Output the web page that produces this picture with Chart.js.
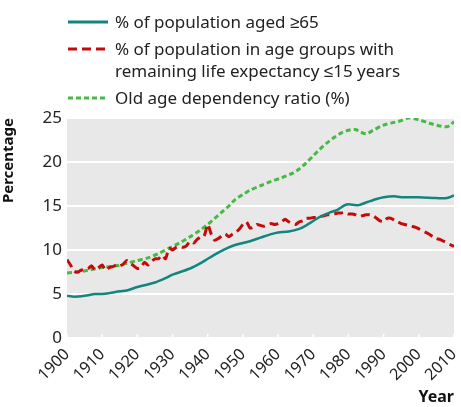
<!DOCTYPE html>
<html><head><meta charset="utf-8">
<script src="https://cdn.jsdelivr.net/npm/chart.js@4"></script>
<style>
html,body{margin:0;padding:0;background:#fff;}
#wrap{position:relative;width:461px;height:407px;font-family:"Noto Sans",sans-serif;}
#c{position:absolute;left:0;top:0;}
.leg{position:absolute;left:67px;font-size:17px;color:#222;line-height:22px;}
.leg svg{position:absolute;left:0;}
.leg span{position:absolute;left:48px;white-space:nowrap;}
</style></head><body>
<div id="wrap">
<canvas id="c" width="461" height="407"></canvas>
<div class="leg" style="top:11px"><svg width="42" height="22"><line x1="1" y1="11" x2="41" y2="11" stroke="#12857f" stroke-width="3"/></svg><span>% of population aged ≥65</span></div>
<div class="leg" style="top:38px"><svg width="42" height="22"><line x1="1" y1="11" x2="41" y2="11" stroke="#c40a0a" stroke-width="3" stroke-dasharray="9,5"/></svg><span>% of population in age groups with<br>remaining life expectancy ≤15 years</span></div>
<div class="leg" style="top:87px"><svg width="42" height="22"><line x1="1" y1="11" x2="41" y2="11" stroke="#46b946" stroke-width="3" stroke-dasharray="5,3"/></svg><span>Old age dependency ratio (%)</span></div>
</div>
<script>
const seriesNames = ["% of population aged ≥65", "% of population in age groups with remaining life expectancy ≤15 years", "Old age dependency ratio (%)"];
const xTicks = [1900,1910,1920,1930,1940,1950,1960,1970,1980,1990,2000,2010];
const yTicks = [0,5,10,15,20,25];

const agedYears = [1900,1902,1905,1908,1910,1912,1915,1917,1920,1922,1925,1928,1930,1935,1938,1940,1943,1946,1948,1950,1952,1955,1958,1960,1963,1966,1968,1970,1972,1975,1977,1979,1980,1982,1983,1985,1988,1990,1993,1995,2000,2005,2008,2010];
const agedValues = [4.8,4.7,4.8,5.0,5.0,5.1,5.3,5.4,5.8,6.0,6.3,6.8,7.2,7.9,8.5,9.0,9.7,10.3,10.6,10.8,11.0,11.4,11.8,12.0,12.1,12.4,12.8,13.3,13.8,14.3,14.6,15.1,15.2,15.1,15.1,15.4,15.8,16.0,16.1,16.0,16.0,15.9,15.9,16.2];

const lifeYears = [];
for (let y = 1900; y <= 2010; y++) lifeYears.push(y);
const lifeValues = [8.9,8.3,7.6,7.5,7.7,7.8,7.9,8.2,7.7,8.0,8.3,7.7,8.0,8.1,8.3,8.2,8.4,8.8,8.5,8.2,7.9,8.0,8.6,8.3,8.7,9.0,9.0,9.4,9.0,10.2,10.0,10.3,10.4,10.3,10.5,11.0,10.8,11.2,11.5,11.6,12.9,11.8,11.1,11.3,11.6,11.8,11.5,11.8,12.0,12.4,12.9,13.2,12.5,12.6,12.9,12.8,12.7,12.9,13.0,12.9,13.0,13.2,13.5,13.2,13.0,12.9,13.2,13.3,13.6,13.6,13.7,13.7,13.8,13.9,14.0,14.0,14.1,14.2,14.2,14.3,14.1,14.1,14.0,13.8,13.9,14.0,14.0,13.9,13.6,13.3,13.2,13.6,13.6,13.4,13.2,13.0,12.9,12.8,12.7,12.6,12.4,12.2,12.0,11.8,11.5,11.3,11.2,11.0,10.8,10.6,10.4];

const depYears = [1900,1903,1906,1910,1914,1917,1920,1923,1926,1929,1932,1935,1938,1940,1942,1944,1946,1948,1950,1952,1955,1958,1961,1964,1966,1968,1970,1972,1974,1976,1978,1980,1982,1983,1985,1987,1990,1993,1995,1997,2000,2003,2006,2008,2009,2010];
const depValues = [7.4,7.5,7.7,8.0,8.2,8.5,8.8,9.1,9.6,10.2,10.8,11.5,12.3,12.9,13.6,14.3,15.0,15.8,16.3,16.8,17.3,17.8,18.2,18.7,19.2,19.9,20.7,21.5,22.2,22.8,23.3,23.6,23.7,23.5,23.2,23.6,24.2,24.5,24.7,25.0,24.8,24.4,24.1,24.0,24.2,24.6];

const pts = (xs, ys) => xs.map((x, i) => ({x: x, y: ys[i]}));

const bgPlugin = {
  id: 'bg',
  beforeDraw(chart) {
    const {ctx, chartArea: a} = chart;
    ctx.save();
    ctx.fillStyle = '#e8e8e8';
    ctx.fillRect(a.left, a.top, a.right - a.left, a.bottom - a.top);
    // small white inner tick marks along the bottom of the plot
    const xs = chart.scales.x;
    ctx.strokeStyle = '#ffffff';
    ctx.lineWidth = 1.5;
    xTicks.forEach(v => {
      const px = xs.getPixelForValue(v);
      ctx.beginPath();
      ctx.moveTo(px, a.bottom);
      ctx.lineTo(px, a.bottom - 4);
      ctx.stroke();
    });
    ctx.restore();
  }
};

const FONT = '"Noto Sans", sans-serif';
new Chart(document.getElementById('c'), {
  type: 'line',
  data: {
    datasets: [
      {label: seriesNames[0], data: pts(agedYears, agedValues), borderColor: '#12857f', borderWidth: 2.5, pointRadius: 0, tension: 0.3, order: 1},
      {label: seriesNames[1], data: pts(lifeYears, lifeValues), borderColor: '#c40a0a', borderWidth: 3, borderDash: [9,5], pointRadius: 0, tension: 0.2, order: 2},
      {label: seriesNames[2], data: pts(depYears, depValues), borderColor: '#46b946', borderWidth: 3, borderDash: [5,3], pointRadius: 0, tension: 0.3, order: 3}
    ]
  },
  options: {
    responsive: false,
    animation: false,
    layout: {padding: {left: 0, right: 7, top: 118, bottom: 0}},
    plugins: {legend: {display: false}, tooltip: {enabled: false}},
    scales: {
      x: {
        type: 'linear', min: 1900, max: 2010,
        afterBuildTicks: s => { s.ticks = xTicks.map(v => ({value: v})); },
        afterFit: s => { s.height = 69; s.paddingLeft = 0; s.paddingRight = 0; },
        grid: {display: false, drawTicks: false},
        border: {display: false},
        ticks: {color: '#222', font: {family: FONT, size: 16}, maxRotation: 45, minRotation: 45, padding: 7, autoSkip: false, callback: v => String(v)},
        title: {display: true, text: 'Year', align: 'end', color: '#111', font: {family: FONT, size: 16, weight: 'bold'}, padding: {top: 0, bottom: 0}}
      },
      y: {
        min: 0, max: 25,
        afterBuildTicks: s => { s.ticks = yTicks.map(v => ({value: v})); },
        afterFit: s => { s.width = 67; s.paddingTop = 0; s.paddingBottom = 0; },
        grid: {color: '#ffffff', lineWidth: 2, drawTicks: false},
        border: {display: false},
        ticks: {color: '#222', font: {family: FONT, size: 17}, padding: 5},
        title: {display: true, text: 'Percentage', align: 'end', color: '#111', font: {family: FONT, size: 15, weight: 'bold'}, padding: {top: 0, bottom: 4}}
      }
    }
  },
  plugins: [bgPlugin]
});
</script>
</body></html>
